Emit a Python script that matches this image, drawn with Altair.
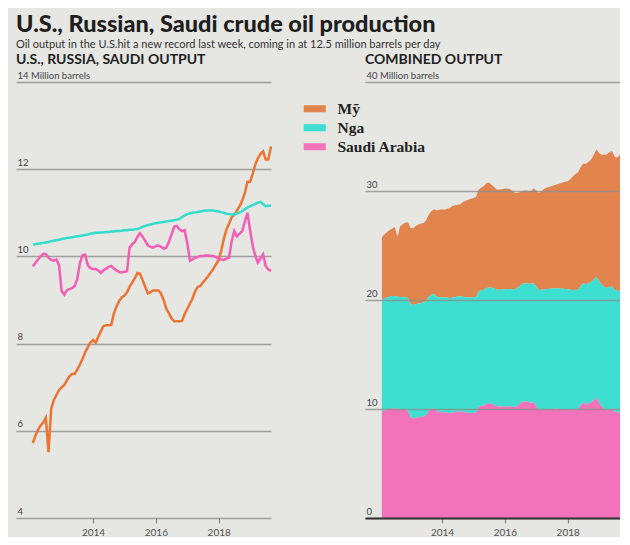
import altair as alt
import pandas as pd

dates = pd.date_range("2012-02-01", "2019-09-01", freq="MS").strftime("%Y-%m-%d").tolist()

# Million barrels per day (Feb 2012 .. Sep 2019, monthly)
us = [
    5.72, 5.88, 6.02, 6.12, 6.19, 6.30, 5.51, 6.50, 6.70, 6.82, 6.93,
    7.00, 7.05, 7.15, 7.25, 7.30, 7.30, 7.40, 7.52, 7.65, 7.80, 7.92, 8.02,
    8.08, 8.02, 8.15, 8.28, 8.40, 8.42, 8.42, 8.43, 8.70, 8.85, 8.98, 9.06,
    9.10, 9.18, 9.30, 9.40, 9.50, 9.62, 9.60, 9.45, 9.30, 9.15, 9.18, 9.22,
    9.22, 9.22, 9.15, 9.00, 8.80, 8.70, 8.58, 8.51, 8.51, 8.51, 8.52, 8.68,
    8.80, 8.92, 9.03, 9.20, 9.30, 9.32, 9.40, 9.47, 9.55, 9.63, 9.72, 9.82,
    9.92, 10.15, 10.40, 10.62, 10.75, 10.90, 10.95, 11.05, 11.15, 11.28, 11.45, 11.71,
    11.71, 11.90, 12.10, 12.25, 12.35, 12.41, 12.22, 12.22, 12.52,
]
russia = [
    10.27, 10.28, 10.29, 10.30, 10.31, 10.32, 10.33, 10.35, 10.36, 10.37, 10.38,
    10.40, 10.41, 10.42, 10.43, 10.44, 10.45, 10.46, 10.47, 10.48, 10.49, 10.50, 10.52,
    10.53, 10.54, 10.54, 10.55, 10.55, 10.56, 10.56, 10.57, 10.57, 10.58, 10.58, 10.59,
    10.60, 10.60, 10.61, 10.61, 10.62, 10.63, 10.65, 10.68, 10.70, 10.72, 10.73, 10.75,
    10.76, 10.77, 10.78, 10.79, 10.80, 10.81, 10.82, 10.83, 10.84, 10.86, 10.90, 10.94,
    10.97, 10.99, 11.00, 11.01, 11.02, 11.03, 11.04, 11.05, 11.05, 11.05, 11.05, 11.04,
    11.03, 11.01, 11.00, 10.98, 10.97, 10.96, 10.96, 10.98, 11.01, 11.04, 11.08, 11.12,
    11.15, 11.18, 11.20, 11.23, 11.25, 11.20, 11.15, 11.16, 11.16,
]
saudi = [
    9.77, 9.85, 9.93, 10.00, 10.06, 10.05, 9.97, 9.92, 9.90, 9.93, 9.80,
    9.20, 9.12, 9.22, 9.25, 9.27, 9.32, 9.48, 9.85, 10.03, 10.04, 9.80, 9.73,
    9.71, 9.71, 9.68, 9.62, 9.68, 9.72, 9.76, 9.78, 9.72, 9.68, 9.64, 9.63,
    9.65, 9.66, 10.20, 10.28, 10.33, 10.45, 10.53, 10.45, 10.35, 10.25, 10.22, 10.20,
    10.24, 10.25, 10.22, 10.18, 10.20, 10.33, 10.50, 10.68, 10.70, 10.62, 10.58, 10.60,
    10.30, 9.90, 9.93, 9.97, 9.99, 10.01, 10.01, 10.02, 10.02, 10.01, 10.01, 9.98,
    9.95, 9.93, 9.92, 9.95, 9.97, 10.35, 10.58, 10.46, 10.52, 10.58, 10.80, 11.00,
    10.60, 10.24, 10.02, 9.86, 9.95, 10.05, 9.78, 9.70, 9.67,
]

countries = ["Mỹ", "Nga", "Saudi Arabia"]
line_colors = ["#EB7431", "#33DDCB", "#F35DB6"]
area_colors = ["#E2844E", "#3EDFD0", "#F273BA"]
stack_rank = {"Saudi Arabia": 0, "Nga": 1, "Mỹ": 2}

rows = []
for name, series in zip(countries, [us, russia, saudi]):
    for d, v in zip(dates, series):
        rows.append({"date": d, "country": name, "value": v, "rank": stack_rank[name]})
df = pd.DataFrame(rows)

SANS = "Lato"
BG = "#e6e6e3"
NB = "\u00a0"

x_scale = alt.Scale(domain=[alt.DateTime(year=2011, month=7, date=20),
                            alt.DateTime(year=2019, month=9, date=1)])
year_ticks = [alt.DateTime(year=y) for y in (2014, 2016, 2018)]


def x_axis(dark):
    return alt.Axis(values=year_ticks, format="%Y", title=None, grid=False,
                    domain=dark, domainColor="#333333", domainWidth=2,
                    ticks=True, tickSize=5, tickColor="#888888", tickWidth=1.2,
                    labelColor="#555555", labelFont=SANS, labelFontSize=10,
                    labelPadding=4, labelFlush=False, zindex=2)


def y_axis(vals, top):
    return alt.Axis(values=vals, title=None, ticks=False, domain=False,
                    labelAlign="left", labelBaseline="bottom", labelPadding=-1,
                    labelOffset=-2, labelFlush=False, labelOverlap=False,
                    labelExpr=f"datum.value == {top} ? '{top} Million barrels' : datum.label",
                    labelColor="#444444", labelFont=SANS, labelFontSize=9.5,
                    gridColor="#8f8f8f", gridWidth=1.5, gridOpacity=0.8)


def panel_title(text):
    return alt.TitleParams(text, anchor="start", frame="group", font=SANS, fontSize=14,
                           fontWeight="bold", color="#222222", offset=3)


left = alt.Chart(df).mark_line(strokeWidth=2.5).encode(
    x=alt.X("date:T", scale=x_scale, axis=x_axis(False)),
    y=alt.Y("value:Q", scale=alt.Scale(domain=[4, 14]),
            axis=y_axis([4, 6, 8, 10, 12, 14], 14)),
    color=alt.Color("country:N", scale=alt.Scale(domain=countries, range=line_colors),
                    legend=None),
).properties(width=255, height=436, title=panel_title("U.S., RUSSIA, SAUDI OUTPUT"))

right_axis = y_axis([0, 10, 20, 30, 40], 40)
right_axis["zindex"] = 1
right = alt.Chart(df).mark_area(opacity=1).encode(
    x=alt.X("date:T", scale=x_scale, axis=x_axis(True)),
    y=alt.Y("value:Q", stack="zero", scale=alt.Scale(domain=[0, 40]), axis=right_axis),
    color=alt.Color("country:N", scale=alt.Scale(domain=countries, range=area_colors),
                    legend=alt.Legend(orient="none", legendX=-58, legendY=19, title=None,
                                      symbolType="M-2,-0.64H2V0.64H-2Z", symbolSize=121,
                                      symbolStrokeWidth=0, symbolOpacity=1,
                                      labelFont="Liberation Serif", labelFontWeight="bold",
                                      labelFontSize=15.5, labelColor="#222222",
                                      labelOffset=15, rowPadding=2, labelLimit=200,
                                      labelExpr=f"datum.label == 'Nga' ? '{NB}Nga' : "
                                                f"datum.label == 'Saudi Arabia' ? '{NB}{NB}Saudi Arabia' : datum.label")),
    order=alt.Order("rank:Q", sort="ascending"),
).properties(width=255, height=436, title=panel_title("COMBINED OUTPUT"))

chart = alt.hconcat(left, right, spacing=31).resolve_scale(
    color="independent"
).resolve_legend(color="independent").properties(
    title=alt.TitleParams(
        "U.S., Russian, Saudi crude oil production",
        subtitle="Oil output in the U.S.hit a new record last week, coming in at 12.5 million barrels per day",
        anchor="start", font=SANS, fontSize=23.5, fontWeight=900, color="#1e1e1e",
        subtitleFont=SANS, subtitleFontSize=11, subtitleColor="#333333",
        subtitlePadding=3, offset=3,
    ),
    padding={"left": 8, "top": 4, "right": 0, "bottom": 0},
    background=BG,
).configure_view(stroke=None)

chart.save("out.html", embed_options={"renderer": "svg", "actions": False})
